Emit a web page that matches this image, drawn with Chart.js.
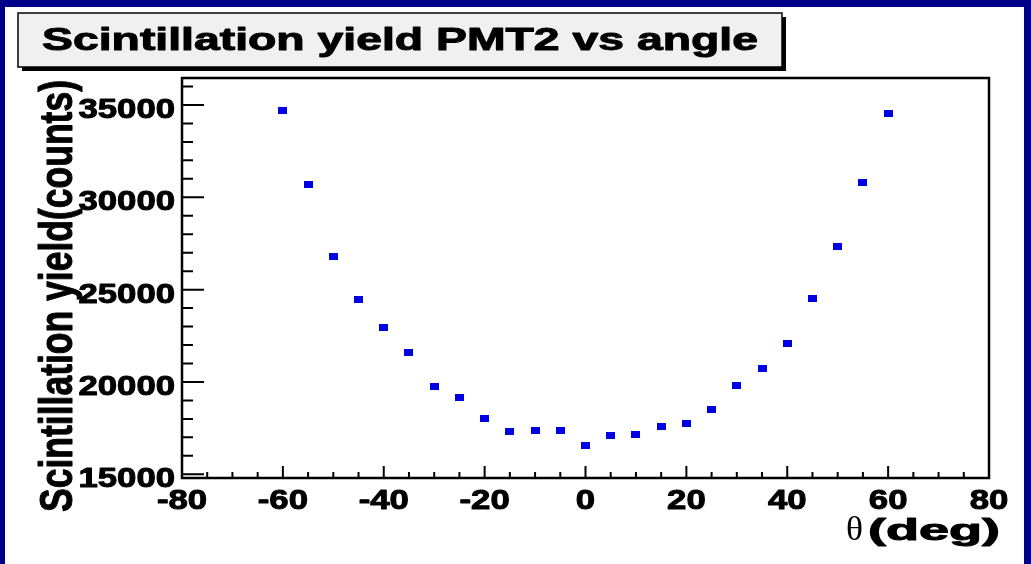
<!DOCTYPE html>
<html>
<head>
<meta charset="utf-8">
<script src="https://cdn.jsdelivr.net/npm/chart.js@4.4.1/dist/chart.umd.min.js"></script>
<style>
  html, body { margin: 0; padding: 0; background: #000088; }
  canvas { display: block; }
</style>
</head>
<body>
<canvas id="yieldChart" width="1031" height="564"></canvas>
<script>
// scintillation yield of PMT2, one reading every 5 degrees
const angles = [-60, -55, -50, -45, -40, -35, -30, -25, -20, -15, -10, -5, 0,
                5, 10, 15, 20, 25, 30, 35, 40, 45, 50, 55, 60];
const yields = [34675, 30666, 26800, 24460, 22930, 21590, 19740, 19180, 18030, 17340, 17360, 17360, 16570,
                17120, 17180, 17610, 17760, 18520, 19790, 20740, 22100, 24500, 27320, 30790, 34550];

const xTicks = [-80, -60, -40, -20, 0, 20, 40, 60, 80];
const yTicks = [15000, 20000, 25000, 30000, 35000];
const xMinorStep = 5;
const yMinorStep = 1000;

const titleText = 'Scintillation yield PMT2 vs angle';
const xTitleSymbol = '\u03b8';
const xTitleText = '(deg)';
const yTitleText = 'Scintillation yield(counts)';

const SANS = '"Liberation Sans", Arial, sans-serif';
const SERIF = '"Liberation Serif", "DejaVu Serif", serif';
const NAVY = '#000088';
const MARKER_BLUE = '#0000e6';

// small flat rectangle used as marker
const marker = document.createElement('canvas');
marker.width = 9;
marker.height = 7;
(function () {
  const m = marker.getContext('2d');
  m.fillStyle = MARKER_BLUE;
  m.fillRect(0, 0, 9, 7);
})();

// text with a thin outline so it reads heavier, stretched horizontally by sx
function heavyText(ctx, text, x, y, sx, font, align, weight) {
  ctx.save();
  ctx.font = font;
  ctx.translate(x, y);
  ctx.scale(sx, 1);
  ctx.textAlign = align;
  ctx.textBaseline = 'alphabetic';
  ctx.fillText(text, 0, 0);
  if (weight) {
    ctx.lineWidth = weight;
    ctx.lineJoin = 'round';
    ctx.strokeText(text, 0, 0);
  }
  ctx.restore();
}

// same, but the horizontal scale is picked so the text spans `width`
function fitText(ctx, text, x, y, width, font, align, weight) {
  ctx.save();
  ctx.font = font;
  const w = ctx.measureText(text).width;
  ctx.restore();
  heavyText(ctx, text, x, y, width / w, font, align, weight);
}

const rootFrame = {
  id: 'rootFrame',
  beforeDraw(chart) {
    const ctx = chart.ctx;
    ctx.save();
    ctx.fillStyle = NAVY;
    ctx.fillRect(0, 0, chart.width, chart.height);
    ctx.fillStyle = '#ffffff';
    ctx.fillRect(5, 7, 1019, chart.height - 7);
    ctx.restore();
  },
  afterDraw(chart) {
    const ctx = chart.ctx;
    const a = chart.chartArea;
    const xs = chart.scales.x;
    const ys = chart.scales.y;
    ctx.save();

    // frame
    ctx.strokeStyle = '#000';
    ctx.lineWidth = 2.5;
    ctx.strokeRect(a.left, a.top, a.right - a.left, a.bottom - a.top);

    // ticks along x, pointing into the pad
    ctx.lineWidth = 2;
    ctx.beginPath();
    for (let v = xs.min; v <= xs.max; v += xMinorStep) {
      const px = xs.getPixelForValue(v);
      const len = xTicks.includes(v) ? 12 : 6;
      ctx.moveTo(px, a.bottom);
      ctx.lineTo(px, a.bottom - len);
    }
    // ticks along y
    const yStart = Math.ceil(ys.min / yMinorStep) * yMinorStep;
    for (let v = yStart; v <= ys.max; v += yMinorStep) {
      const py = ys.getPixelForValue(v);
      const len = yTicks.includes(v) ? 22 : 11;
      ctx.moveTo(a.left, py);
      ctx.lineTo(a.left + len, py);
    }
    ctx.stroke();

    // tick labels
    ctx.fillStyle = '#000';
    ctx.strokeStyle = '#000';
    const tickFont = 'bold 28px ' + SANS;
    xTicks.forEach(v => {
      heavyText(ctx, String(v), xs.getPixelForValue(v), 509, 1.24, tickFont, 'center', 1);
    });
    yTicks.forEach(v => {
      heavyText(ctx, String(v), 175, ys.getPixelForValue(v) + 13, 1.24, tickFont, 'right', 1);
    });

    // axis titles
    fitText(ctx, xTitleSymbol, 846, 540, 17, '34px ' + SERIF, 'left', 0);
    fitText(ctx, xTitleText, 868, 540, 132, 'bold 30px ' + SANS, 'left', 1);

    ctx.save();
    ctx.translate(72, 512);
    ctx.rotate(-Math.PI / 2);
    ctx.scale(1, 1.3);
    fitText(ctx, yTitleText, 0, 0, 432, 'bold 36px ' + SANS, 'left', 0.8);
    ctx.restore();

    // title box with drop shadow
    ctx.fillStyle = '#000';
    ctx.fillRect(22, 17, 764, 54);
    ctx.fillStyle = '#f0f0f0';
    ctx.fillRect(18, 13, 764, 54);
    ctx.lineWidth = 1.5;
    ctx.strokeStyle = '#000';
    ctx.strokeRect(18, 13, 764, 54);
    ctx.fillStyle = '#000';
    fitText(ctx, titleText, 42, 50, 716, 'bold 32px ' + SANS, 'left', 1);

    ctx.restore();
  }
};

const chartData = {
  datasets: [{
    data: angles.map((a, i) => ({ x: a, y: yields[i] })),
    pointStyle: marker,
    showLine: false
  }]
};

const config = {
  type: 'scatter',
  data: chartData,
  options: {
    responsive: false,
    animation: false,
    layout: {
      padding: { left: 182, top: 78, right: 42, bottom: 86 }
    },
    scales: {
      x: { type: 'linear', min: -80, max: 80, display: false },
      y: { type: 'linear', min: 14800, max: 36460, display: false }
    },
    plugins: {
      legend: { display: false },
      tooltip: { enabled: false }
    }
  },
  plugins: [rootFrame]
};

const yieldChart = new Chart(document.getElementById('yieldChart').getContext('2d'), config);
</script>
</body>
</html>
